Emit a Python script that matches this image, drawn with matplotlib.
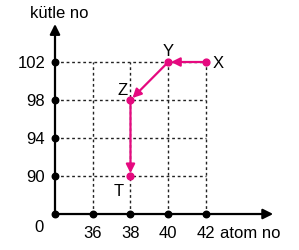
import matplotlib
matplotlib.use('Agg')
import matplotlib.pyplot as plt

# === DATA ===
ATOM_TICKS = [36, 38, 40, 42]
MASS_TICKS = [90, 94, 98, 102]
POINT_NAMES = ['X', 'Y', 'Z', 'T']
POINT_ATOM = [42, 40, 38, 38]
POINT_MASS = [102, 102, 98, 90]

# === STYLE ===
PINK = '#E5097F'
FONT = 'Liberation Sans'
FS = 12

plt.rcParams['font.family'] = [FONT, 'DejaVu Sans']

# ticks are drawn on an evenly spaced grid (axis starts at 0, first tick one step right)
def xpos(v):
    return ATOM_TICKS.index(v) + 1

def ypos(v):
    return MASS_TICKS.index(v) + 1

fig = plt.figure(figsize=(2.99, 2.51), dpi=100)
ax = fig.add_axes([0, 0, 1, 1])
ax.set_xlim(-1.457, 6.464)
ax.set_ylim(-0.947, 5.658)
ax.axis('off')

nx = len(ATOM_TICKS)
ny = len(MASS_TICKS)

# dashed grid
for i in range(1, nx + 1):
    ax.plot([i, i], [0, ny], color='#222222', linestyle=(0, (2, 2)), linewidth=1.0, zorder=1)
for j in range(1, ny + 1):
    ax.plot([0, nx], [j, j], color='#222222', linestyle=(0, (2, 2)), linewidth=1.0, zorder=1)

# axes with arrow heads
ax.annotate('', xy=(5.78, 0), xytext=(0, 0),
            arrowprops=dict(arrowstyle='-|>', color='black', lw=1.6, mutation_scale=15,
                            shrinkA=0, shrinkB=0), zorder=3)
ax.annotate('', xy=(0, 5.0), xytext=(0, 0),
            arrowprops=dict(arrowstyle='-|>', color='black', lw=1.6, mutation_scale=15,
                            shrinkA=0, shrinkB=0), zorder=3)

# tick dots
ax.scatter([0] + [xpos(v) for v in ATOM_TICKS], [0] * (nx + 1), s=22, color='black', zorder=4)
ax.scatter([0] * ny, [ypos(v) for v in MASS_TICKS], s=22, color='black', zorder=4)

# tick labels
for v in ATOM_TICKS:
    ax.text(xpos(v), -0.48, str(v), ha='center', va='center', fontsize=FS)
for v in MASS_TICKS:
    ax.text(-0.26, ypos(v), str(v), ha='right', va='center', fontsize=FS)
ax.text(-0.3, -0.32, '0', ha='right', va='center', fontsize=FS)

ax.text(4.37, -0.48, 'atom no', ha='left', va='center', fontsize=FS)
ax.text(-0.67, 5.3, 'kütle no', ha='left', va='center', fontsize=FS)

# path X -> Y -> Z -> T
px = [xpos(v) for v in POINT_ATOM]
py = [ypos(v) for v in POINT_MASS]
for k in range(len(px) - 1):
    ax.annotate('', xy=(px[k + 1], py[k + 1]), xytext=(px[k], py[k]),
                arrowprops=dict(arrowstyle='-|>', color=PINK, lw=1.6, mutation_scale=13,
                                shrinkA=0, shrinkB=2), zorder=5)
ax.scatter(px, py, s=24, color=PINK, zorder=6)

offsets = {'X': (0.32, 0.0), 'Y': (0.0, 0.3), 'Z': (-0.22, 0.27), 'T': (-0.32, -0.37)}
for name, x, y in zip(POINT_NAMES, px, py):
    dx, dy = offsets[name]
    ax.text(x + dx, y + dy, name, ha='center', va='center', fontsize=FS)

fig.savefig('out.png', dpi=100)
